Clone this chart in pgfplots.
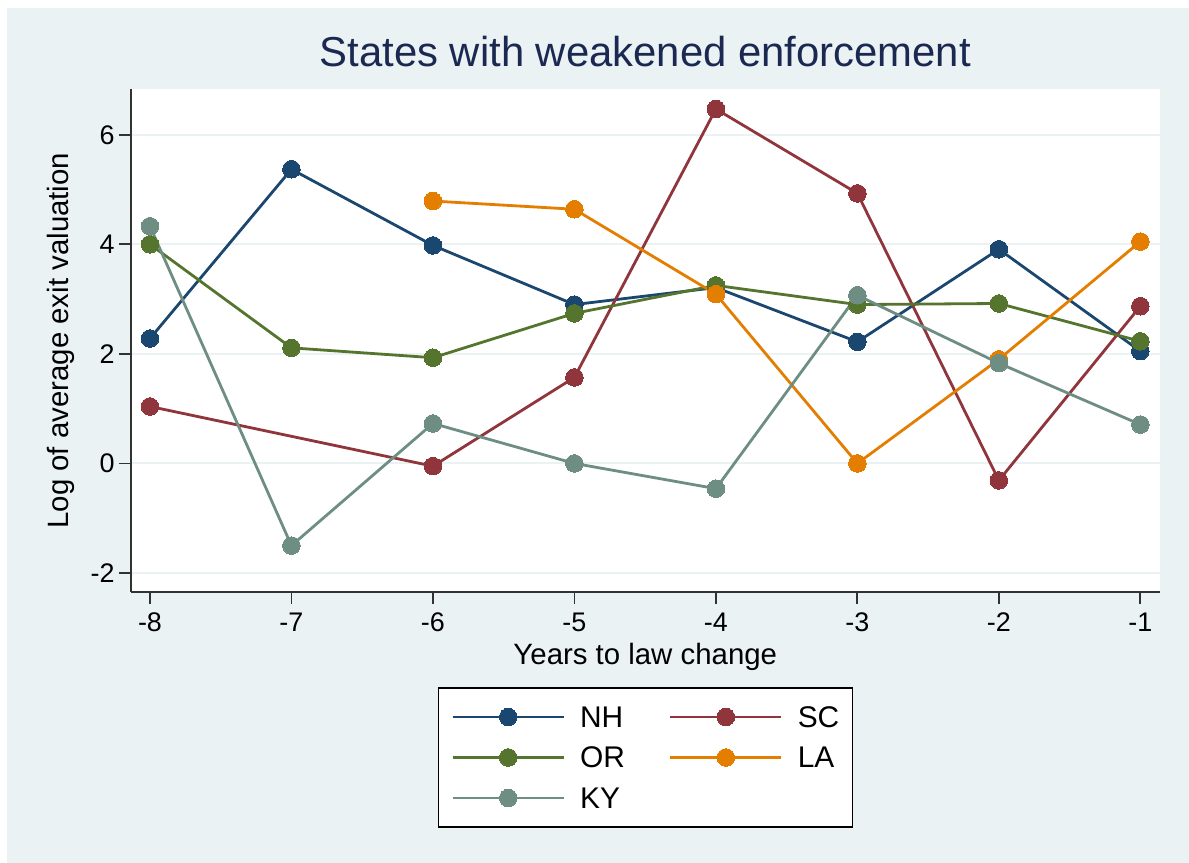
\documentclass[border=0pt]{standalone}
\usepackage{fontspec}
\setmainfont{Liberation Sans}
\usepackage{pgfplots}
\pgfplotsset{compat=1.18}
\definecolor{bgc}{RGB}{234,242,243}
\definecolor{gridc}{RGB}{234,242,243}
\definecolor{axc}{RGB}{50,50,50}
\definecolor{titlec}{RGB}{26,40,82}
\definecolor{cNH}{RGB}{26,71,111}
\definecolor{cSC}{RGB}{144,53,59}
\definecolor{cOR}{RGB}{85,117,47}
\definecolor{cLA}{RGB}{227,126,0}
\definecolor{cKY}{RGB}{110,142,132}
\pgfplotsset{
  ser/.style={color=#1, line width=2.8bp, mark=*, mark size=8.8bp,
    mark options={solid, fill=#1, draw=#1, line width=0pt}},
}
\begin{document}
\begin{tikzpicture}
\fill[white] (0,0) rectangle (1189bp,863bp);
\fill[bgc] (7bp,0) rectangle (1189bp,855bp);
\begin{axis}[
  at={(131bp,271bp)}, anchor=south west,
  scale only axis, width=1028.6bp, height=502.7bp,
  xmin=-8.134, xmax=-0.864, ymin=-2.347, ymax=6.83,
  axis x line*=bottom, axis y line*=left,
  axis line style={line width=1.8bp, color=axc, -},
  xtick={-8,-7,-6,-5,-4,-3,-2,-1}, ytick={-2,0,2,4,6},
  tick align=outside, major tick length=12bp,
  tick style={line width=1.8bp, color=axc},
  ymajorgrids, grid style={line width=2bp, color=gridc},
  axis background/.style={fill=white},
  ticklabel style={font=\fontsize{27}{30}\selectfont, color=black},
  xticklabel style={yshift=-5bp},
  yticklabel style={xshift=-1bp},
  /pgf/number format/assume math mode=true,
  title={States with weakened enforcement},
  title style={font=\fontsize{42}{46}\selectfont, color=titlec, at={(0.5,1.0338)}, anchor=base},
  xlabel={Years to law change},
  xlabel style={font=\fontsize{29.5}{32}\selectfont, at={(0.5,-0.1452)}, anchor=base},
  ylabel={Log of average exit valuation},
  ylabel style={font=\fontsize{29.5}{32}\selectfont, at={(-0.0603,0.5)}, anchor=base},
  clip=false,
  legend columns=2,
  legend cell align=left,
  legend style={at={(0.5,-0.3292)}, anchor=center, draw=black, line width=1.2bp, fill=white,
    font=\fontsize{30}{32}\selectfont, inner xsep=13bp, inner ysep=18.5bp,
    nodes={inner sep=0pt, text height=21bp, text depth=0bp},
    row sep=19.5bp,
    /tikz/every odd column/.append style={column sep=15bp},
    /tikz/every even column/.append style={column sep=44bp}},
  legend image code/.code={\draw[mark repeat=2, mark phase=2] plot coordinates {(0bp,0bp)(55.5bp,0bp)(111bp,0bp)};},
]
\addplot[ser=cNH] coordinates {(-8,2.28)(-7,5.37)(-6,3.98)(-5,2.90)(-4,3.21)(-3,2.22)(-2,3.91)(-1,2.05)};
\addlegendentry{NH}
\addplot[ser=cSC] coordinates {(-8,1.04)(-6,-0.05)(-5,1.57)(-4,6.47)(-3,4.93)(-2,-0.31)(-1,2.87)};
\addlegendentry{SC}
\addplot[ser=cOR] coordinates {(-8,4.0)(-7,2.11)(-6,1.93)(-5,2.74)(-4,3.25)(-3,2.90)(-2,2.92)(-1,2.23)};
\addlegendentry{OR}
\addplot[ser=cLA] coordinates {(-6,4.79)(-5,4.64)(-4,3.09)(-3,0.0)(-2,1.90)(-1,4.05)};
\addlegendentry{LA}
\addplot[ser=cKY] coordinates {(-8,4.33)(-7,-1.50)(-6,0.73)(-5,0.0)(-4,-0.46)(-3,3.07)(-2,1.83)(-1,0.71)};
\addlegendentry{KY}
\end{axis}
\end{tikzpicture}
\end{document}
